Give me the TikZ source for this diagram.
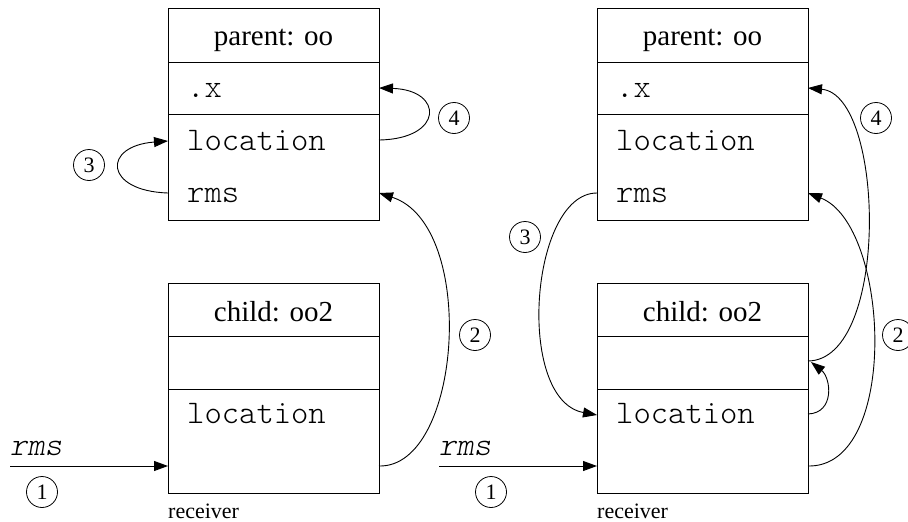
\documentclass[tikz,border=0pt]{standalone}
\usepackage{fontspec}
\setmainfont{Liberation Serif}
\setmonofont{Latin Modern Mono Light}
\usetikzlibrary{arrows.meta}
\begin{document}
\begin{tikzpicture}[x=1pt,y=-1pt,
  cell/.style={draw, line width=1pt, minimum width=211pt, inner sep=0pt, outer sep=0pt},
  ttl/.style={font=\fontsize{29}{34}\selectfont, anchor=base, inner sep=0pt},
  code/.style={font=\ttfamily\fontsize{33}{38}\selectfont, anchor=base west, inner sep=0pt},
  msg/.style={font=\ttfamily\itshape\fontsize{33}{38}\selectfont, anchor=base west, inner sep=0pt},
  num/.style={draw, line width=0.8pt, circle, minimum size=31pt, inner sep=0pt, font=\fontsize{22}{24}\selectfont},
  link/.style={line width=0.9pt, -{Triangle[length=14pt,width=10pt]}},
  note/.style={font=\fontsize{22}{24}\selectfont, anchor=base west, inner sep=0pt}
]
\useasboundingbox (0,0) rectangle (908,522);

% ---------- left: parent ----------
\node[cell, minimum height=54pt] (LPt) at (273.5,35) {};
\node[cell, minimum height=52pt] (LPx) at (273.5,88) {};
\node[cell, minimum height=106pt] (LPl) at (273.5,167) {};
\node[ttl] (LPtt) at (273.5,45) {parent: oo};
\node[code] (LPxt) at (187,97) {.x};
\node[code] (LPloc) at (187,150) {location};
\node[code] (LPrms) at (187,202) {rms};
% ---------- left: child ----------
\node[cell, minimum height=53pt] (LCt) at (273.5,309.5) {};
\node[cell, minimum height=53pt] (LCe) at (273.5,362.5) {};
\node[cell, minimum height=104pt] (LCl) at (273.5,441) {};
\node[ttl] (LCtt) at (273.5,321) {child: oo2};
\node[code] (LCloc) at (187,423) {location};
\node[note] (LRec) at (168,518) {receiver};
\node[msg] (LMsg) at (10,455) {rms};

% ---------- right: parent ----------
\node[cell, minimum height=54pt] (RPt) at (702.5,35) {};
\node[cell, minimum height=52pt] (RPx) at (702.5,88) {};
\node[cell, minimum height=106pt] (RPl) at (702.5,167) {};
\node[ttl] (RPtt) at (702.5,45) {parent: oo};
\node[code] (RPxt) at (616,97) {.x};
\node[code] (RPloc) at (616,150) {location};
\node[code] (RPrms) at (616,202) {rms};
% ---------- right: child ----------
\node[cell, minimum height=53pt] (RCt) at (702.5,309.5) {};
\node[cell, minimum height=53pt] (RCe) at (702.5,362.5) {};
\node[cell, minimum height=104pt] (RCl) at (702.5,441) {};
\node[ttl] (RCtt) at (702.5,321) {child: oo2};
\node[code] (RCloc) at (616,423) {location};
\node[note] (RRec) at (597,518) {receiver};
\node[msg] (RMsg) at (439,455) {rms};

% ---------- ports ----------
\coordinate (LIn) at (10,466);
\coordinate (LCin) at (168,466);
\coordinate (LCout) at (379,466);
\coordinate (LPrmsE) at (379,193);
\coordinate (LPrmsW) at (168,193);
\coordinate (LPlocW) at (168,141);
\coordinate (LPlocE) at (379,140);
\coordinate (LPxE) at (379,88);

\coordinate (RIn) at (439,466);
\coordinate (RCin) at (597,466);
\coordinate (RCout) at (808,466);
\coordinate (RCeE) at (808,361);
\coordinate (RCeT) at (811,362);
\coordinate (RClocE) at (808,414);
\coordinate (RClocW) at (597,415);
\coordinate (RPrmsE) at (808,193);
\coordinate (RPrmsW) at (597,193);
\coordinate (RPxE) at (808,88);

% ---------- left connectors ----------
\draw[link] (LIn) -- (LCin);
\draw[link] (LCout) .. controls (462,468) and (478,225) .. (LPrmsE);
\draw[link] (LPrmsW) .. controls (104,191) and (102,146) .. (LPlocW);
\draw[link] (LPlocE) .. controls (444,139) and (444,90) .. (LPxE);

% ---------- right connectors ----------
\draw[link] (RIn) -- (RCin);
\draw[link] (RPrmsW) .. controls (530,193) and (515,400) .. (RClocW);
\draw[link] (RClocE) .. controls (835,413) and (831,378) .. (RCeT);
\draw[link] (RCeE) .. controls (890,360) and (885,95) .. (RPxE);
\draw[link] (RCout) .. controls (900,468) and (890,225) .. (RPrmsE);

% ---------- step numbers ----------
\node[num] (N1L) at (42,492) {1};
\node[num] (N2L) at (475,335) {2};
\node[num] (N3L) at (89,165) {3};
\node[num] (N4L) at (454,118) {4};
\node[num] (N1R) at (491,492) {1};
\node[num] (N2R) at (898,335) {2};
\node[num] (N3R) at (525,237) {3};
\node[num] (N4R) at (876,118) {4};
\end{tikzpicture}
\end{document}
